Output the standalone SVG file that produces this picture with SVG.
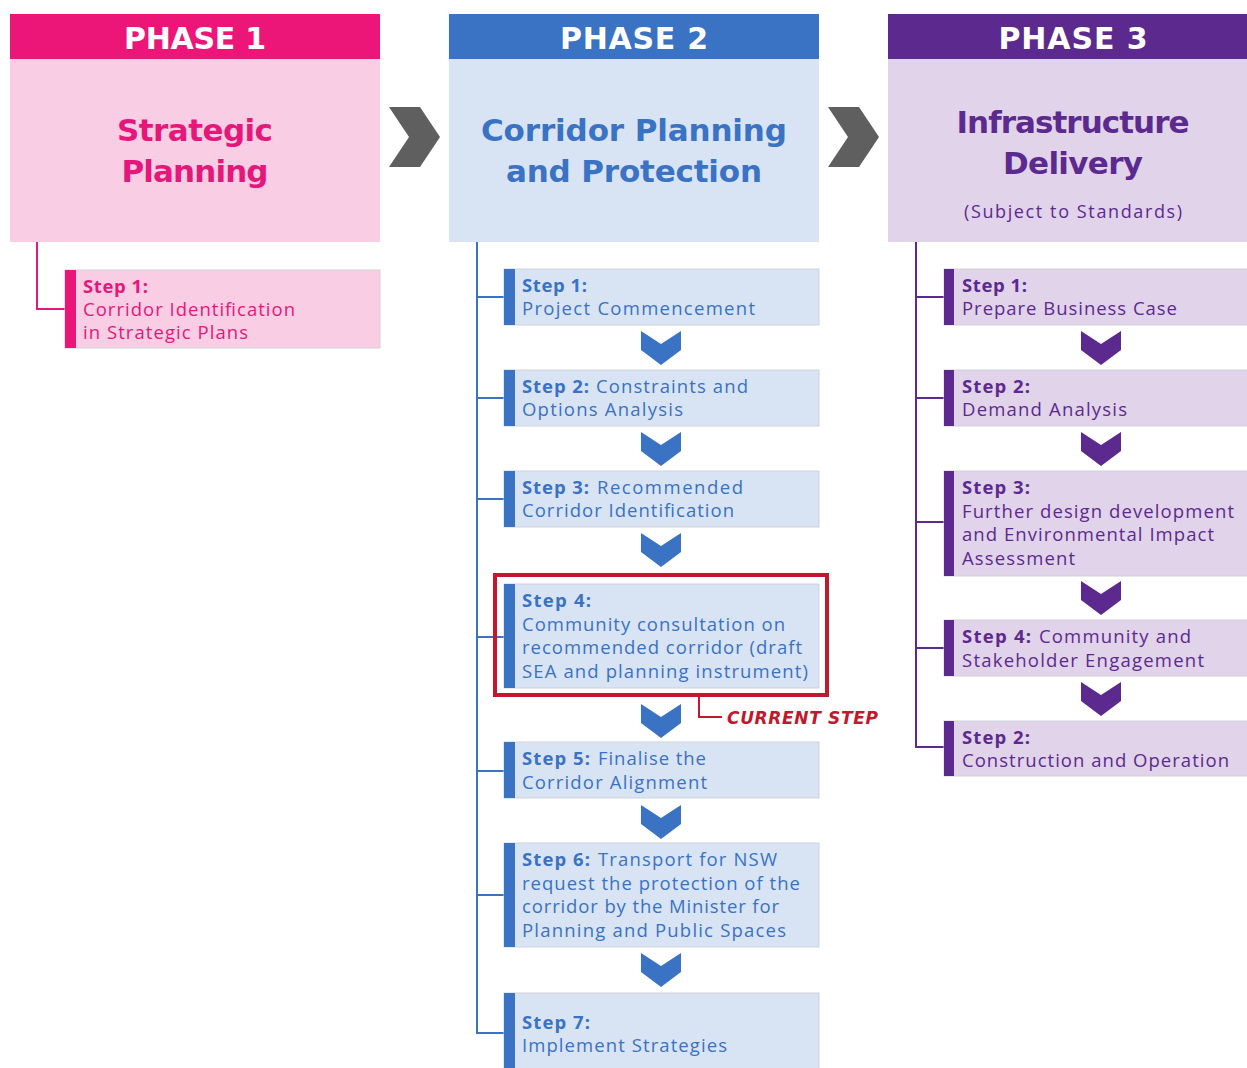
<svg xmlns="http://www.w3.org/2000/svg" width="1247" height="1068" viewBox="0 0 1247 1068">
<style>
text{font-family:"Open Sans","Liberation Sans",sans-serif;}
.hd{font-family:"DejaVu Sans","Open Sans",sans-serif;font-size:30px;font-weight:700;fill:#fff;text-anchor:middle;}
.tt{font-family:"DejaVu Sans","Open Sans",sans-serif;font-size:31px;font-weight:700;text-anchor:middle;}
.cur{font-family:"DejaVu Sans","Open Sans",sans-serif;font-size:17px;font-weight:700;font-style:italic;fill:#c0182c;}
.st{font-size:18.5px;}
.b{font-weight:700;}
.p1{fill:#e5177b;}
.p2{fill:#3a72c4;}
.p3{fill:#5c2a8f;}
.box{stroke:#cfd2d8;stroke-width:1;}
.c1{fill:none;stroke:#e5177b;stroke-width:2;}
.c2{fill:none;stroke:#3a72c4;stroke-width:2;}
.c3{fill:none;stroke:#5c2a8f;stroke-width:2;}
</style>
<defs>
<path id="chev" d="M0,0 L20,13 L40,0 L40,19 L20,34 L0,19 Z"/>
<path id="arr" d="M0,0 L31,0 L51,30 L31,60 L0,60 L20,30 Z" fill="#5f5f5f"/>
</defs>
<rect width="1247" height="1068" fill="#fff"/>

<g id="phase1">
<rect x="10" y="59" width="370" height="183" fill="#f9cde3"/>
<rect x="10" y="14" width="370" height="45" fill="#ec1679"/>
<text class="hd" x="195" y="49" textLength="142">PHASE 1</text>
<text class="tt p1"><tspan x="195" y="141" textLength="156">Strategic</tspan><tspan x="195" y="182" textLength="147">Planning</tspan></text>
</g>
<g id="phase2">
<rect x="449" y="59" width="370" height="183" fill="#d8e4f3"/>
<rect x="449" y="14" width="370" height="45" fill="#3a72c4"/>
<text class="hd" x="634" y="49" textLength="148">PHASE 2</text>
<text class="tt p2"><tspan x="634" y="141" textLength="306">Corridor Planning</tspan><tspan x="634" y="182" textLength="256">and Protection</tspan></text>
</g>
<g id="phase3">
<rect x="888" y="59" width="370" height="183" fill="#e0d3ea"/>
<rect x="888" y="14" width="370" height="45" fill="#5c2a8f"/>
<text class="hd" x="1073" y="49" textLength="149">PHASE 3</text>
<text class="tt p3"><tspan x="1073" y="133" textLength="233">Infrastructure</tspan><tspan x="1073" y="174" textLength="140">Delivery</tspan></text>
<text class="p3" x="1073" y="218" font-size="18" text-anchor="middle" textLength="218">(Subject to Standards)</text>
</g>

<g id="arrows">
<use href="#arr" x="389" y="107"/>
<use href="#arr" x="828" y="107"/>
</g>

<g id="connectors">
<path class="c1" d="M37,242 V309 H65"/>
<path class="c2" d="M477,242 V1033 H504 M477,297 H504 M477,398 H504 M477,499 H504 M477,637 H504 M477,771 H504 M477,895 H504"/>
<path class="c3" d="M916,242 V747 H944 M916,297 H944 M916,398 H944 M916,522 H944 M916,648 H944"/>
<path d="M699,697 V717 H722" fill="none" stroke="#c0182c" stroke-width="2"/>
</g>

<g id="chevrons2" class="p2">
<use href="#chev" x="641" y="331"/>
<use href="#chev" x="641" y="432"/>
<use href="#chev" x="641" y="533"/>
<use href="#chev" x="641" y="704"/>
<use href="#chev" x="641" y="805"/>
<use href="#chev" x="641" y="953"/>
</g>
<g id="chevrons3" class="p3">
<use href="#chev" x="1081" y="331"/>
<use href="#chev" x="1081" y="432"/>
<use href="#chev" x="1081" y="581"/>
<use href="#chev" x="1081" y="682"/>
</g>

<g id="p1s1">
<rect class="box" x="65" y="270" width="315" height="78" fill="#f9cde3"/>
<rect x="65" y="270" width="11" height="78" fill="#ec1679"/>
<text class="st p1"><tspan x="83" y="293" class="b" textLength="65">Step 1:</tspan><tspan x="83" y="316" textLength="212">Corridor Identification</tspan><tspan x="83" y="339" textLength="165">in Strategic Plans</tspan></text>
</g>

<g id="p2s1">
<rect class="box" x="504" y="269" width="315" height="56" fill="#d8e4f3"/>
<rect x="504" y="269" width="11" height="56" fill="#3a72c4"/>
<text class="st p2"><tspan x="522" y="292" class="b" textLength="65">Step 1:</tspan><tspan x="522" y="315" textLength="233">Project Commencement</tspan></text>
</g>
<g id="p2s2">
<rect class="box" x="504" y="370" width="315" height="56" fill="#d8e4f3"/>
<rect x="504" y="370" width="11" height="56" fill="#3a72c4"/>
<text class="st p2"><tspan x="522" y="393" class="b" textLength="67">Step 2:</tspan><tspan x="596" y="393" textLength="152">Constraints and</tspan><tspan x="522" y="416" textLength="161">Options Analysis</tspan></text>
</g>
<g id="p2s3">
<rect class="box" x="504" y="471" width="315" height="56" fill="#d8e4f3"/>
<rect x="504" y="471" width="11" height="56" fill="#3a72c4"/>
<text class="st p2"><tspan x="522" y="494" class="b" textLength="67">Step 3:</tspan><tspan x="597" y="494" textLength="146">Recommended</tspan><tspan x="522" y="517" textLength="212">Corridor Identification</tspan></text>
</g>
<g id="p2s4">
<rect class="box" x="504" y="584" width="315" height="104" fill="#d8e4f3"/>
<rect x="504" y="584" width="11" height="104" fill="#3a72c4"/>
<text class="st p2"><tspan x="522" y="607" class="b" textLength="69">Step 4:</tspan><tspan x="522" y="631" textLength="263">Community consultation on</tspan><tspan x="522" y="654" textLength="280">recommended corridor (draft</tspan><tspan x="522" y="678" textLength="286">SEA and planning instrument)</tspan></text>
<rect x="495" y="575" width="332" height="120" fill="none" stroke="#c0182c" stroke-width="4"/>
</g>
<g id="current">
<text class="cur" x="727" y="724" textLength="151">CURRENT STEP</text>
</g>
<g id="p2s5">
<rect class="box" x="504" y="742" width="315" height="56" fill="#d8e4f3"/>
<rect x="504" y="742" width="11" height="56" fill="#3a72c4"/>
<text class="st p2"><tspan x="522" y="765" class="b" textLength="68">Step 5:</tspan><tspan x="598" y="765" textLength="108">Finalise the</tspan><tspan x="522" y="789" textLength="185">Corridor Alignment</tspan></text>
</g>
<g id="p2s6">
<rect class="box" x="504" y="843" width="315" height="104" fill="#d8e4f3"/>
<rect x="504" y="843" width="11" height="104" fill="#3a72c4"/>
<text class="st p2"><tspan x="522" y="866" class="b" textLength="68">Step 6:</tspan><tspan x="598" y="866" textLength="179">Transport for NSW</tspan><tspan x="522" y="890" textLength="278">request the protection of the</tspan><tspan x="522" y="913" textLength="257">corridor by the Minister for</tspan><tspan x="522" y="937" textLength="264">Planning and Public Spaces</tspan></text>
</g>
<g id="p2s7">
<rect class="box" x="504" y="993" width="315" height="80" fill="#d8e4f3"/>
<rect x="504" y="993" width="11" height="80" fill="#3a72c4"/>
<text class="st p2"><tspan x="522" y="1029" class="b" textLength="68">Step 7:</tspan><tspan x="522" y="1052" textLength="205">Implement Strategies</tspan></text>
</g>

<g id="p3s1">
<rect class="box" x="944" y="269" width="310" height="56" fill="#e0d3ea"/>
<rect x="944" y="269" width="10" height="56" fill="#5c2a8f"/>
<text class="st p3"><tspan x="962" y="292" class="b" textLength="65">Step 1:</tspan><tspan x="962" y="315" textLength="215">Prepare Business Case</tspan></text>
</g>
<g id="p3s2">
<rect class="box" x="944" y="370" width="310" height="56" fill="#e0d3ea"/>
<rect x="944" y="370" width="10" height="56" fill="#5c2a8f"/>
<text class="st p3"><tspan x="962" y="393" class="b" textLength="68">Step 2:</tspan><tspan x="962" y="416" textLength="165">Demand Analysis</tspan></text>
</g>
<g id="p3s3">
<rect class="box" x="944" y="471" width="310" height="105" fill="#e0d3ea"/>
<rect x="944" y="471" width="10" height="105" fill="#5c2a8f"/>
<text class="st p3"><tspan x="962" y="494" class="b" textLength="68">Step 3:</tspan><tspan x="962" y="518" textLength="272">Further design development</tspan><tspan x="962" y="541" textLength="252">and Environmental Impact</tspan><tspan x="962" y="565" textLength="113">Assessment</tspan></text>
</g>
<g id="p3s4">
<rect class="box" x="944" y="620" width="310" height="56" fill="#e0d3ea"/>
<rect x="944" y="620" width="10" height="56" fill="#5c2a8f"/>
<text class="st p3"><tspan x="962" y="643" class="b" textLength="69">Step 4:</tspan><tspan x="1039" y="643" textLength="152">Community and</tspan><tspan x="962" y="667" textLength="242">Stakeholder Engagement</tspan></text>
</g>
<g id="p3s5">
<rect class="box" x="944" y="721" width="310" height="55" fill="#e0d3ea"/>
<rect x="944" y="721" width="10" height="55" fill="#5c2a8f"/>
<text class="st p3"><tspan x="962" y="744" class="b" textLength="68">Step 2:</tspan><tspan x="962" y="767" textLength="267">Construction and Operation</tspan></text>
</g>
</svg>
